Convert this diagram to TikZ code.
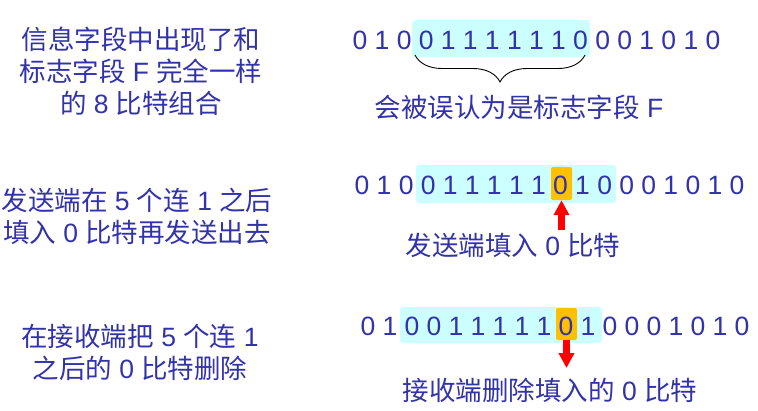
\documentclass[tikz,border=0pt]{standalone}
\usepackage{fontspec}
\setmainfont{Liberation Sans}
\newfontfamily\cjk{Noto Sans CJK SC}
\usetikzlibrary{arrows.meta,decorations.pathreplacing}
\definecolor{txtblue}{RGB}{50,50,170}
\definecolor{hlcyan}{RGB}{204,255,255}
\definecolor{hlorange}{RGB}{255,192,0}
\newcommand\zh[1]{{\cjk #1}}
\begin{document}
\begin{tikzpicture}[x=1pt,y=-1pt,
  every node/.style={text=txtblue,font=\fontsize{26.5}{32}\selectfont},
  digit/.style={inner sep=0pt,anchor=center},
  cyanbox/.style={fill=hlcyan,rounded corners=3pt},
  orangebox/.style={fill=hlorange,rounded corners=2pt,draw=none,inner sep=0pt},
  redarrow/.style={draw=red,line width=7pt,-{Triangle[length=15pt,width=15pt]}},
  note/.style={align=center,inner sep=0pt}]
\fill[white] (0,0) rectangle (758,410);
\useasboundingbox (0,0) rectangle (758,410);

% ---------- row 1 ----------
\fill[cyanbox] (412,20) rectangle (590,57);
\foreach \d [count=\i] in {0,1,0,0,1,1,1,1,1,1,0,0,0,1,0,1,0}
  \node[digit] (a\i) at ({360+(\i-1)*22.06},40) {\d};
\coordinate (braceL) at (415,55);
\coordinate (braceR) at (585,55);
\draw[black,line width=0.9pt,decorate,decoration={brace,mirror,amplitude=27pt}] (braceL) -- (braceR);
\node[inner sep=0pt] (lab1) at (519,107) {\zh{会被误认为是标志字段} F};

% ---------- row 2 ----------
\fill[cyanbox] (416,165) rectangle (616,203);
\node[orangebox,minimum width=21pt,minimum height=33pt] (o2) at (561.5,183.5) {};
\foreach \d [count=\i] in {0,1,0,0,1,1,1,1,1,0,1,0,0,0,1,0,1,0}
  \node[digit] (b\i) at ({362+(\i-1)*22.06},185) {\d};
\coordinate (t2) at (561.5,230);
\draw[redarrow] (t2) -- (o2.south);
\node[inner sep=0pt] (lab2) at (513,245) {\zh{发送端填入} 0 \zh{比特}};

% ---------- row 3 ----------
\fill[cyanbox] (400,307) rectangle (602,343);
\node[orangebox,minimum width=21pt,minimum height=32pt] (o3) at (566.5,324) {};
\foreach \d [count=\i] in {0,1,0,0,1,1,1,1,1,0,1,0,0,0,1,0,1,0}
  \node[digit] (c\i) at ({368+(\i-1)*22.0},326) {\d};
\coordinate (t3) at (566.5,368);
\draw[redarrow] (o3.south) -- (t3);
\node[inner sep=0pt] (lab3) at (550,390) {\zh{接收端删除填入的} 0 \zh{比特}};

% ---------- left notes ----------
\node[note] (n1) at (141,71) {\zh{信息字段中出现了和}\\\zh{标志字段} F \zh{完全一样}\\\zh{的} 8 \zh{比特组合}};
\node[note] (n2) at (137,216) {\zh{发送端在} 5 \zh{个连} 1 \zh{之后}\\\zh{填入} 0 \zh{比特再发送出去}};
\node[note] (n3) at (140,352) {\zh{在接收端把} 5 \zh{个连} 1\\\zh{之后的} 0 \zh{比特删除}};
\end{tikzpicture}
\end{document}
